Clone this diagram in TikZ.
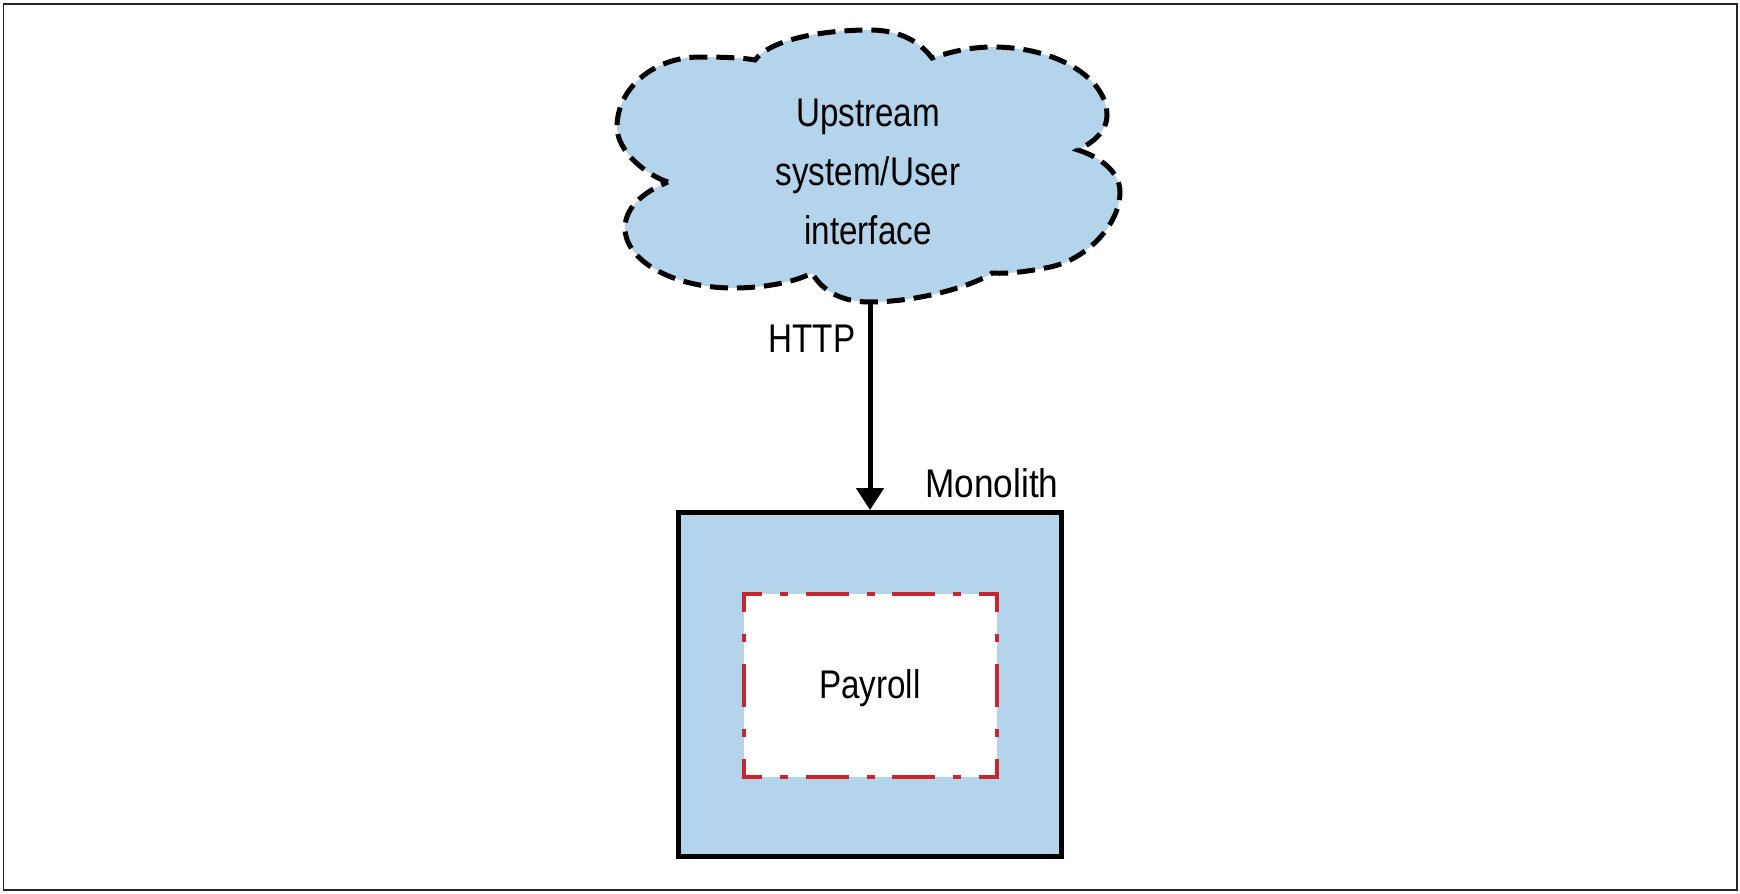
\documentclass[tikz,border=0pt]{standalone}
\usepackage{fontspec}
\setmainfont{Liberation Sans}[FakeStretch=0.83]
\newfontfamily\widerfont{Liberation Sans}[FakeStretch=0.88]
\usetikzlibrary{arrows.meta}
\definecolor{boxblue}{RGB}{179,212,234}
\definecolor{payred}{RGB}{200,38,46}
\begin{document}
\begin{tikzpicture}[x=1pt,y=-1pt,
  lbl/.style={font=\fontsize{40}{59}\selectfont, inner sep=0pt},
  frame/.style={draw=black!85, line width=1.8pt},
  cloudshape/.style={fill=boxblue, draw=black, line width=5pt, dash pattern=on 18pt off 9pt},
  monobox/.style={draw=black, line width=5pt, fill=boxblue, minimum width=383pt, minimum height=344pt, inner sep=0pt},
  paybox/.style={fill=white, minimum width=253pt, minimum height=183pt, inner sep=0pt, outer sep=0pt},
  paydashh/.style={draw=payred, line width=4.5pt, line cap=rect, dash pattern=on 38.5pt off 22.3pt on 3.5pt off 22.3pt, dash phase=22.5pt},
  paydashv/.style={draw=payred, line width=4.5pt, line cap=rect, dash pattern=on 38.5pt off 26.5pt on 3.5pt off 26.5pt, dash phase=22.5pt},
  conn/.style={draw=black, line width=5pt, -{Triangle[length=22pt,width=27pt]}}
]
\useasboundingbox (0,0) rectangle (1740,894);
\draw[frame] (3.5,4) rectangle (1737,890);
% cloud
\path[cloudshape] (668,182)
  .. controls (648,176) and (617,152) .. (617,127)
  .. controls (617,88) and (654,57) .. (700,57)
  .. controls (725,57) and (745,58) .. (755,60)
  .. controls (770,40) and (820,30) .. (870,30)
  .. controls (900,30) and (920,42) .. (932,58)
  .. controls (950,52) and (970,47) .. (993,47)
  .. controls (1056,47) and (1107,78) .. (1107,115)
  .. controls (1107,132) and (1092,143) .. (1078,150)
  .. controls (1100,157) and (1120,172) .. (1120,192)
  .. controls (1120,225) and (1085,262) .. (1045,268)
  .. controls (1025,272) and (1005,274) .. (992,273)
  .. controls (975,285) and (920,302) .. (870,302)
  .. controls (840,302) and (822,290) .. (812,273)
  .. controls (795,282) and (765,288) .. (733,288)
  .. controls (674,288) and (625,261) .. (625,228)
  .. controls (625,205) and (648,190) .. (668,182) -- cycle;
\node[lbl, align=center, anchor=base] (up) at (868,244) {Upstream\\system/User\\interface};
\coordinate (cloudbot) at (870,300);
% monolith
\node[monobox] (mono) at (870,684.5) {};
\node[lbl, font=\widerfont\fontsize{40}{59}\selectfont, anchor=base] (monolbl) at (992,497) {Monolith};
\node[paybox] (pay) at (870.5,685.5) {};
\node[lbl, anchor=base] (paytext) at (870,698) {Payroll};
\draw[paydashh] (pay.north west) -- (pay.north east);
\draw[paydashh] (pay.south west) -- (pay.south east);
\draw[paydashv] (pay.north west) -- (pay.south west);
\draw[paydashv] (pay.north east) -- (pay.south east);
% connector
\draw[conn] (cloudbot) -- (mono.north);
\node[lbl, anchor=base] (http) at (812,352) {HTTP};
\end{tikzpicture}
\end{document}
